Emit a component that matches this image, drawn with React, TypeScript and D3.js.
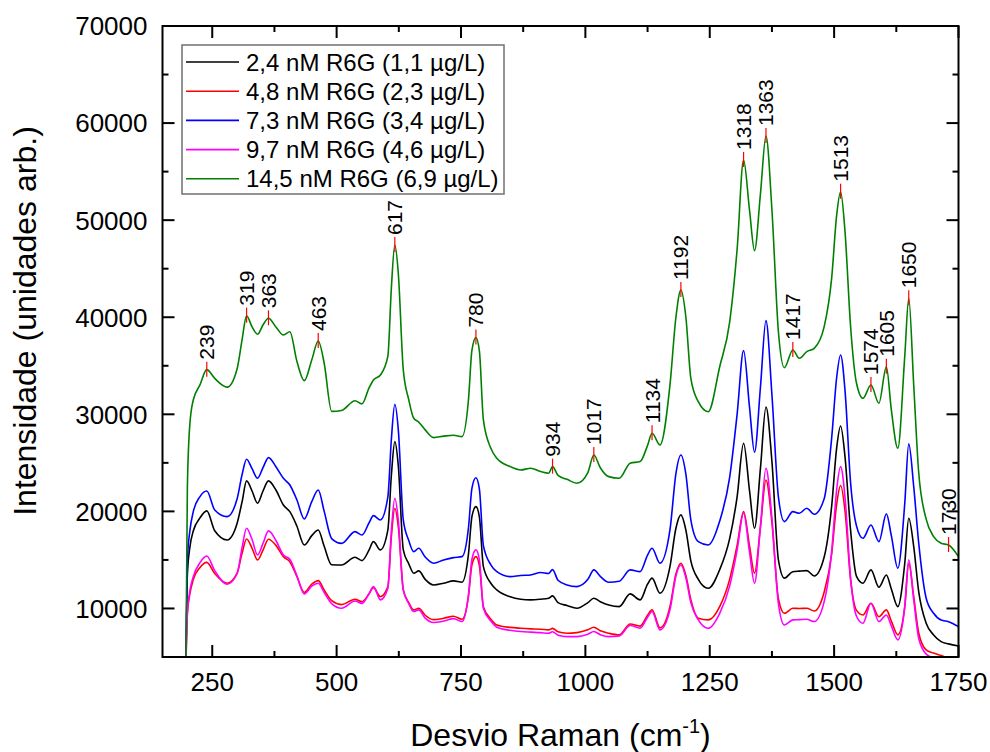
import React from 'react';
import * as d3 from 'd3';

// Raman shift grid (cm-1)
const WAVENUMBER = [
  197, 200, 205, 212, 225, 239, 255, 280, 300, 310,
  319, 330, 341, 352, 363, 378, 393, 406, 420, 435,
  450, 463, 475, 490, 510, 537, 551, 565, 574, 588,
  603, 610, 617, 624, 634, 645, 655, 665, 678, 695,
  715, 735, 752, 765, 772, 780, 787, 795, 810, 822,
  849, 870, 890, 910, 926, 934, 945, 963, 983, 1005,
  1017, 1030, 1047, 1068, 1090, 1110, 1125, 1134, 1150, 1170,
  1182, 1192, 1202, 1212, 1227, 1247, 1270, 1290, 1305, 1318,
  1330, 1340, 1352, 1363, 1375, 1388, 1400, 1417, 1430, 1445,
  1460, 1480, 1495, 1505, 1513, 1522, 1533, 1545, 1558, 1574,
  1590, 1605, 1615, 1628, 1642, 1650, 1660, 1670, 1685, 1700,
  1715, 1730, 1750,
];

// 2,4 nM (black)
const I_2_4 = [
  4000, 13500, 16300, 18000, 19300, 20050, 18000, 17060, 18780, 21000,
  23140, 22100, 20840, 22100, 23140, 22200, 20660, 19970, 18500, 16540,
  17500, 18090, 16400, 14500, 14480, 15270, 14930, 16000, 16880, 16030,
  18090, 23700, 27190, 24700, 16030, 14600, 13630, 13870, 13000, 12420,
  12600, 12840, 12700, 15590, 19490, 20490, 19420, 14310, 12600, 11910,
  11200, 10950, 10880, 10950, 11050, 11300, 10600, 10300, 10020, 10600,
  11050, 10700, 10360, 10190, 11500, 10880, 12500, 13120, 11570, 14310,
  18260, 19640, 18070, 14900, 13000, 12080, 14000, 17200, 21500, 27020,
  22110, 18260, 24510, 30760, 25120, 15000, 13120, 13790, 13850, 13900,
  13350, 15300, 20500, 26500, 28800, 25560, 18100, 13300, 12600, 13970,
  12190, 13450, 12000, 10190, 14660, 19300, 16370, 11730, 8480, 7270,
  6590, 6350, 6140,
];

// 4,8 nM (red)
const I_4_8 = [
  4000, 9500, 11500, 13000, 14200, 14750, 13600, 12600, 13630, 15700,
  17160, 16200, 15000, 16000, 17130, 16500, 15340, 14820, 13300, 11650,
  12500, 12870, 11900, 10800, 10400, 10950, 10700, 11500, 12150, 11220,
  12250, 17400, 20320, 18400, 11910, 10600, 9850, 10020, 9300, 8850,
  8990, 9200, 8890, 11280, 14500, 15340, 14400, 10190, 8900, 8300,
  8050, 7960, 7900, 7860, 7790, 7950, 7600, 7450, 7510, 7800,
  8070, 7700, 7450, 7280, 8400, 8180, 9300, 9860, 8000, 10190,
  13550, 14660, 13400, 10900, 8990, 8820, 10200, 13000, 16500, 19980,
  16420, 13630, 18440, 23240, 18840, 11000, 9500, 10020, 10000, 10020,
  9740, 11700, 15600, 20700, 22660, 20000, 13000, 9800, 9330, 10540,
  9150, 9850, 8700, 7280, 10190, 14660, 11220, 7470, 5730, 5400,
  5150, 4900, 4700,
];

// 7,3 nM (blue)
const I_7_3 = [
  4000, 15000, 18000, 20000, 21500, 22100, 20150, 19460, 21300, 23800,
  25370, 24400, 23410, 24500, 25540, 24600, 23410, 22720, 21200, 19220,
  21000, 22200, 20000, 17200, 16700, 17910, 17570, 18800, 19560, 19120,
  21500, 27400, 31040, 28400, 19120, 17000, 15850, 16200, 15300, 14660,
  15000, 15240, 15340, 18300, 22400, 23470, 22300, 16470, 14500, 13790,
  13280, 13400, 13450, 13700, 13600, 14000, 12900, 12420, 12250, 13000,
  13970, 13300, 12700, 12800, 13970, 13790, 15500, 16200, 14660, 18090,
  23900, 25810, 23830, 19120, 16880, 16540, 19000, 23500, 30000, 36560,
  30700, 26090, 32870, 39650, 32000, 21500, 18950, 19980, 19810, 20320,
  19700, 21300, 27520, 33740, 36110, 32390, 23000, 18500, 17230, 18600,
  16880, 19740, 17500, 14150, 20840, 26950, 22550, 16750, 11050, 9500,
  8800, 8640, 8130,
];

// 9,7 nM (magenta)
const I_9_7 = [
  4000, 9500, 11800, 13300, 14700, 15410, 13900, 12500, 13600, 16300,
  18260, 17100, 15510, 16700, 17990, 17000, 15510, 15060, 13400, 11500,
  12300, 12600, 11630, 10500, 10020, 10770, 10520, 11500, 12250, 10880,
  12080, 18000, 21350, 19100, 11910, 10500, 9680, 9850, 9000, 8550,
  8700, 8950, 8650, 11380, 15070, 16030, 15000, 10020, 8700, 8070,
  7750, 7620, 7560, 7510, 7440, 7600, 7250, 7100, 7100, 7350,
  7620, 7300, 7100, 7170, 8250, 7960, 9100, 9680, 7790, 9850,
  13350, 14480, 13160, 10600, 8820, 7960, 9500, 12300, 16000, 19810,
  15770, 12600, 18520, 24440, 19280, 10500, 8300, 8820, 8850, 8890,
  8650, 10700, 15850, 22190, 24610, 21390, 13200, 9200, 8470, 10540,
  8650, 9330, 8200, 6760, 10190, 15000, 10880, 6930, 5300, 4900,
  4600, 4400, 4200,
];

// 14,5 nM (green)
const I_14_5 = [
  4000, 22500, 29000, 31500, 33000, 34600, 33700, 32800, 34700, 37700,
  40160, 39000, 38250, 39200, 39890, 39000, 38170, 38500, 35500, 33470,
  35600, 37550, 35260, 30300, 30400, 31400, 31070, 32700, 33540, 34050,
  36000, 43000, 47440, 44500, 34570, 31500, 29590, 29200, 28400, 27600,
  27750, 27850, 27700, 31500, 36600, 37900, 36500, 29420, 26500, 25470,
  24610, 24270, 24440, 24100, 23930, 24610, 23700, 23300, 22900, 24000,
  25810, 24500, 23580, 23410, 24960, 25130, 26800, 28050, 26840, 33000,
  40000, 42800, 40000, 33700, 31300, 30270, 34900, 39500, 47000, 56200,
  51000, 46860, 52770, 58670, 51050, 38500, 34800, 36630, 35770, 36450,
  36800, 39030, 44000, 50460, 52930, 48740, 39100, 33200, 31650, 33020,
  31140, 34900, 30450, 26500, 36000, 41950, 33000, 24000, 19200, 17400,
  16720, 16540, 15340,
];

const SERIES_LABELS = [
  '2,4 nM R6G (1,1 µg/L)',
  '4,8 nM R6G (2,3 µg/L)',
  '7,3 nM R6G (3,4 µg/L)',
  '9,7 nM R6G (4,6 µg/L)',
  '14,5 nM R6G (6,9 µg/L)',
];
const SERIES_COLORS = ['#000000', '#ff0000', '#0000ff', '#ff00ff', '#008000'];

const PEAK_POSITIONS = [239, 319, 363, 463, 617, 780, 934, 1017, 1134, 1192, 1318, 1363, 1417, 1513, 1574, 1605, 1650, 1730];

const X_TICKS = [250, 500, 750, 1000, 1250, 1500, 1750];
const Y_TICKS = [10000, 20000, 30000, 40000, 50000, 60000, 70000];

const FONT = '"Liberation Sans", Arial, Helvetica, sans-serif';

export default function App() {
  const W = 990;
  const H = 752;
  const left = 162.5;
  const right = 958.5;
  const top = 26;
  const bottom = 657;

  const x = d3.scaleLinear().domain([150, 1750]).range([left, right]);
  const y = d3.scaleLinear().domain([5000, 70000]).range([bottom, top]);

  const series = [I_2_4, I_4_8, I_7_3, I_9_7, I_14_5];
  const line = d3
    .line<number>()
    .x((_, i) => x(WAVENUMBER[i]))
    .y((d) => y(d))
    .curve(d3.curveMonotoneX);

  const xMinor = X_TICKS.slice(0, -1).map((t, i) => (t + X_TICKS[i + 1]) / 2);
  const yMinor = Y_TICKS.map((t) => t - 5000).filter((t) => t > 5000);

  const greenAt = (v: number) => {
    const i = d3.bisectLeft(WAVENUMBER, v);
    if (WAVENUMBER[i] === v) return I_14_5[i];
    const x0 = WAVENUMBER[i - 1];
    const x1 = WAVENUMBER[i];
    const t = (v - x0) / (x1 - x0);
    return I_14_5[i - 1] * (1 - t) + I_14_5[i] * t;
  };

  const MAJ = 12;
  const MIN = 6;

  return (
    <svg
      width={W}
      height={H}
      style={{ position: 'absolute', left: 0, top: 0, background: '#fff' }}
      fontFamily={FONT}
    >
      <defs>
        <clipPath id="plotClip">
          <rect x={left} y={top} width={right - left} height={bottom - top} />
        </clipPath>
      </defs>
      <rect x={0} y={0} width={W} height={H} fill="#fff" />

      {/* data lines */}
      <g clipPath="url(#plotClip)">
        {series.map((s, k) => (
          <path
            key={k}
            d={line(s) || ''}
            fill="none"
            stroke={SERIES_COLORS[k]}
            strokeWidth={1.6}
            strokeLinejoin="round"
          />
        ))}
      </g>

      {/* peak labels */}
      {PEAK_POSITIONS.map((p) => {
        const px = x(p);
        const py = y(greenAt(p));
        return (
          <g key={p}>
            <line x1={px} x2={px} y1={py - 8} y2={py + 7} stroke="#ff0000" strokeWidth={1.2} />
            <text
              transform={`translate(${px + 7.5},${py - 10}) rotate(-90)`}
              fontSize={21}
              fill="#000"
            >
              {p}
            </text>
          </g>
        );
      })}

      {/* frame */}
      <rect
        x={left}
        y={top}
        width={right - left}
        height={bottom - top}
        fill="none"
        stroke="#000"
        strokeWidth={2}
      />

      {/* x ticks bottom & top */}
      {X_TICKS.map((t) => (
        <g key={'xt' + t}>
          <line x1={x(t)} x2={x(t)} y1={bottom} y2={bottom - MAJ} stroke="#000" strokeWidth={2} />
          <line x1={x(t)} x2={x(t)} y1={top} y2={top + MAJ} stroke="#000" strokeWidth={2} />
          <text x={x(t)} y={691} textAnchor="middle" fontSize={26} fill="#000">
            {t}
          </text>
        </g>
      ))}
      {xMinor.map((t) => (
        <g key={'xm' + t}>
          <line x1={x(t)} x2={x(t)} y1={bottom} y2={bottom - MIN} stroke="#000" strokeWidth={2} />
          <line x1={x(t)} x2={x(t)} y1={top} y2={top + MIN} stroke="#000" strokeWidth={2} />
        </g>
      ))}

      {/* y ticks left & right */}
      {Y_TICKS.map((t) => (
        <g key={'yt' + t}>
          <line x1={left} x2={left + MAJ} y1={y(t)} y2={y(t)} stroke="#000" strokeWidth={2} />
          <line x1={right} x2={right - MAJ} y1={y(t)} y2={y(t)} stroke="#000" strokeWidth={2} />
          <text x={147.5} y={y(t)} dy="0.36em" textAnchor="end" fontSize={26} fill="#000">
            {t}
          </text>
        </g>
      ))}
      {yMinor.map((t) => (
        <g key={'ym' + t}>
          <line x1={left} x2={left + MIN} y1={y(t)} y2={y(t)} stroke="#000" strokeWidth={2} />
          <line x1={right} x2={right - MIN} y1={y(t)} y2={y(t)} stroke="#000" strokeWidth={2} />
        </g>
      ))}

      {/* axis titles */}
      <text x={(left + right) / 2} y={746} textAnchor="middle" fontSize={32} fill="#000">
        Desvio Raman (cm
        <tspan fontSize={20} dy={-13}>
          -1
        </tspan>
        <tspan dy={13}>)</tspan>
      </text>
      <text
        transform="translate(36,321) rotate(-90)"
        textAnchor="middle"
        fontSize={32}
        fill="#000"
      >
        Intensidade (unidades arb.)
      </text>

      {/* legend */}
      <rect x={182} y={45} width={322} height={149} fill="#fff" stroke="#707070" strokeWidth={1.5} />
      {SERIES_LABELS.map((lab, i) => {
        const ly = 62 + i * 29.2;
        return (
          <g key={lab}>
            <line x1={186} x2={239} y1={ly} y2={ly} stroke={SERIES_COLORS[i]} strokeWidth={1.6} />
            <text x={246} y={ly} dy="0.36em" fontSize={24} fill="#000">
              {lab}
            </text>
          </g>
        );
      })}
    </svg>
  );
}
